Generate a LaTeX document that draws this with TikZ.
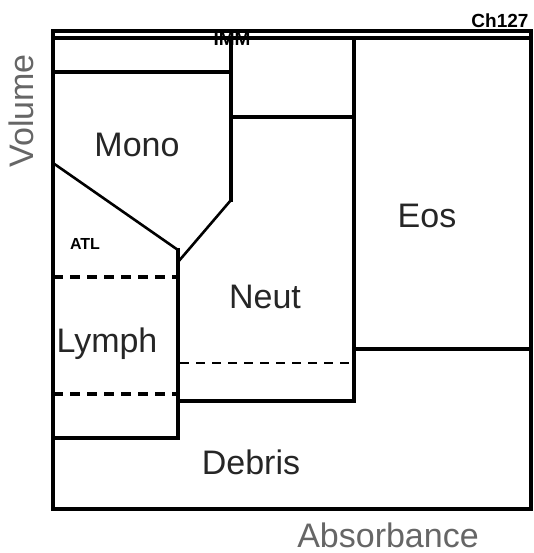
\documentclass[tikz,border=0pt]{standalone}
\usepackage{fontspec}
\setmainfont{Liberation Sans}
\begin{document}
\begin{tikzpicture}[x=1pt,y=-1pt,
  gate/.style={line width=3.2pt, line cap=rect},
  diag/.style={line width=2.6pt},
  dashgate/.style={line width=3.2pt, dash pattern=on 10pt off 7pt},
  thindash/.style={line width=2.2pt, dash pattern=on 9pt off 7pt},
  big/.style={font=\fontsize{34}{40}\selectfont, text=black!85, anchor=base, inner sep=0pt},
  axis/.style={big, text=black!60},
  small/.style={font=\fontsize{19}{22}\selectfont\bfseries, anchor=base, inner sep=0pt}]
\useasboundingbox[fill=white] (0,0) rectangle (534,553);
% coordinates
\coordinate (tl) at (53,31);
\coordinate (br) at (531,509);
\coordinate (a1) at (53,38);  \coordinate (a2) at (531,38);
\coordinate (m1) at (53,72);  \coordinate (m2) at (231,72);
\coordinate (v1) at (231,38); \coordinate (v2) at (231,200); \coordinate (v3) at (178,262);
\coordinate (d1) at (53,163); \coordinate (d2) at (178,250);
\coordinate (l1) at (178,438); \coordinate (l2) at (53,438);
\coordinate (n1) at (231,117); \coordinate (n2) at (354,117);
\coordinate (e1) at (354,38); \coordinate (e2) at (354,401); \coordinate (e3) at (178,401);
\coordinate (f1) at (354,349); \coordinate (f2) at (531,349);
% gates
\draw[gate] (tl) rectangle (br);
\draw[gate] (a1) -- (a2);
\draw[gate] (m1) -- (m2);
\draw[gate] (v1) -- (v2);
\draw[diag] (v2) -- (v3);
\draw[diag] (d1) -- (d2);
\draw[gate] (d2) -- (l1) -- (l2);
\draw[gate] (n1) -- (n2);
\draw[gate] (e1) -- (e2) -- (e3);
\draw[gate] (f1) -- (f2);
\draw[dashgate] (53,277) -- (178,277);
\draw[dashgate] (53,394) -- (178,394);
\draw[thindash] (180,363) -- (354,363);
% labels
\node[big] (mono) at (137,157) {Mono};
\node[big] (lymph) at (107,352) {Lymph};
\node[big] (neut) at (265,308) {Neut};
\node[big] (eos) at (427,227) {Eos};
\node[big] (debris) at (251,474) {Debris};
\node[axis] (absorb) at (388,547) {Absorbance};
\node[axis, rotate=90] (volume) at (33,111) {Volume};
\node[small] (ch) at (500,28) {Ch127};
\node[small] (imm) at (232,46) {IMM};
\node[small, font=\fontsize{16}{19}\selectfont\bfseries] (atl) at (85,249) {ATL};
\end{tikzpicture}
\end{document}
